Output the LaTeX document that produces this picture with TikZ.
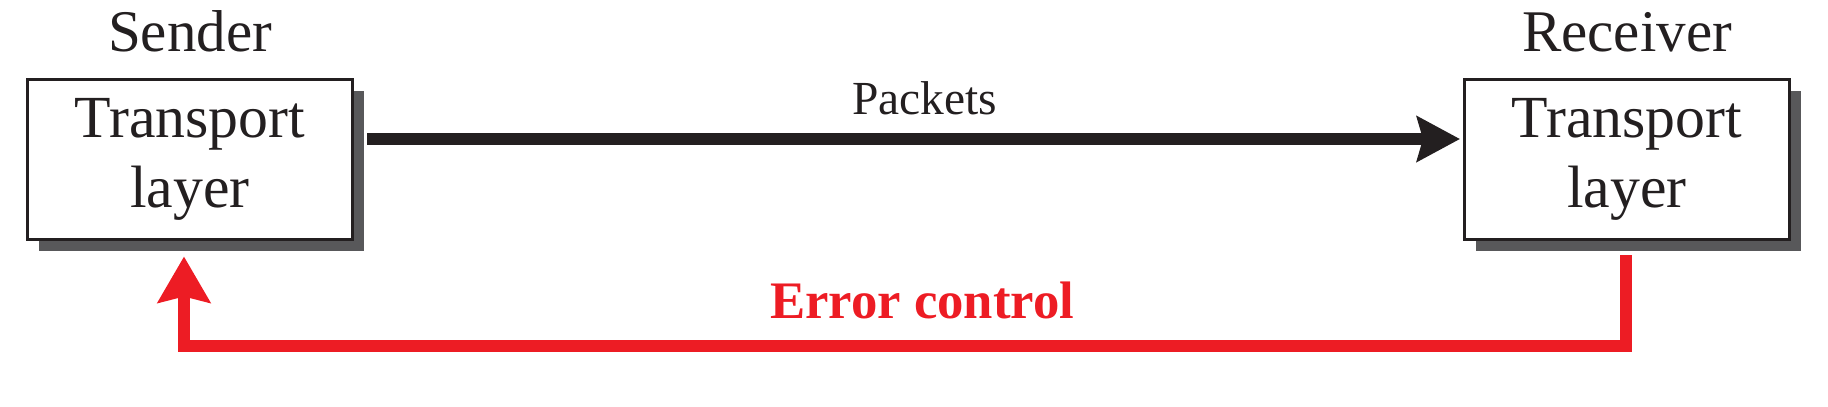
\documentclass[tikz,border=0pt]{standalone}
\usepackage{fontspec}
\setmainfont{Liberation Serif}
\usetikzlibrary{arrows.meta}
\usetikzlibrary{positioning}
\usetikzlibrary{shadows}
\definecolor{errred}{HTML}{ED1C24}
\definecolor{inkblack}{HTML}{231F20}
\definecolor{shadegrey}{HTML}{58585A}
\tikzset{
    layer/.style = {draw=inkblack,line width=0.85pt,fill=white,inner sep=0,
        minimum width=3.25cm,minimum height=1.6cm,align=center,
        font=\fontsize{17}{20}\selectfont,text=inkblack,
        drop shadow={shadow xshift=0.115cm,shadow yshift=-0.115cm,fill=shadegrey,opacity=1}},
    side/.style = {anchor=base,font=\fontsize{16.8}{20}\selectfont,text=inkblack}
}
\tikzset{
    pkt/.style = {draw=inkblack,line width=1.2mm,-{Stealth[length=4.3mm,width=4.5mm,inset=0.6mm]}},
    pktlbl/.style = {anchor=base,font=\fontsize{13.5}{16}\selectfont,text=inkblack},
    err/.style = {draw=errred,line width=1.2mm,-{Stealth[length=4.6mm,width=5.2mm,inset=0.6mm]}},
    errlbl/.style = {anchor=base,font=\bfseries\fontsize{15}{18}\selectfont,text=errred}
}
\begin{document}
\begin{tikzpicture}
        \useasboundingbox (0,0) rectangle (18.28,4.06);
        % Layers
        \path node[layer] (snd) at (1.90,2.465) {Transport\\layer}
            node[layer] (rcv) at (16.27,2.465) {Transport\\layer}
        ;
        % Names
        \path node[side] (sndname) at ([yshift=0.265cm]snd.north) {Sender}
            node[side] (rcvname) at ([yshift=0.265cm]rcv.north) {Receiver}
        ;
        % Packets
        \draw[pkt] ([xshift=0.135cm,yshift=0.205cm]snd.east)
            to node[pos=0.51,pktlbl,yshift=0.25cm] (pkttext) {Packets}
            ([xshift=-0.03cm,yshift=0.205cm]rcv.west);
        % Error control
        \draw[err] ([xshift=-0.01cm,yshift=-0.14cm]rcv.south)
            -- ++(0,-0.905)
            -| node[pos=0.244,errlbl,yshift=0.27cm] (errtext) {Error control}
            ([xshift=-0.06cm,yshift=-0.155cm]snd.south);
    \end{tikzpicture}
\end{document}
